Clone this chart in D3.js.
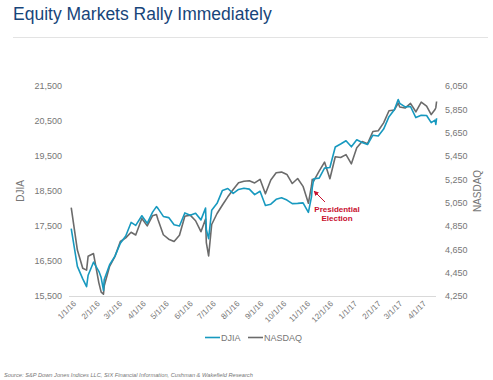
<!DOCTYPE html>
<html><head><meta charset="utf-8">
<script src="https://cdn.jsdelivr.net/npm/d3@7"></script>
<style>
body{margin:0;background:#fff;}
svg{display:block;font-family:"Liberation Sans",Arial,sans-serif;}
</style></head>
<body><svg id="c" width="493" height="380"></svg>
<script>
const djiaDates = ["2015-12-31","2016-01-08","2016-01-15","2016-01-20","2016-01-22","2016-01-29","2016-02-05","2016-02-08","2016-02-11","2016-02-12","2016-02-19","2016-02-26","2016-03-04","2016-03-11","2016-03-18","2016-03-24","2016-04-01","2016-04-08","2016-04-15","2016-04-20","2016-04-22","2016-04-29","2016-05-06","2016-05-13","2016-05-20","2016-05-27","2016-06-03","2016-06-10","2016-06-17","2016-06-23","2016-06-24","2016-06-27","2016-07-01","2016-07-08","2016-07-15","2016-07-22","2016-07-29","2016-08-05","2016-08-12","2016-08-19","2016-08-26","2016-09-02","2016-09-09","2016-09-16","2016-09-23","2016-09-30","2016-10-07","2016-10-14","2016-10-21","2016-10-28","2016-11-04","2016-11-08","2016-11-09","2016-11-11","2016-11-18","2016-11-25","2016-12-02","2016-12-09","2016-12-16","2016-12-23","2016-12-30","2017-01-06","2017-01-13","2017-01-20","2017-01-27","2017-02-03","2017-02-10","2017-02-17","2017-02-24","2017-03-01","2017-03-03","2017-03-10","2017-03-17","2017-03-24","2017-03-31","2017-04-07","2017-04-13","2017-04-18","2017-04-19","2017-04-20"];
const djiaValues = [17425,16346,15988,15766,16093,16466,16205,16027,15660,15974,16392,16640,17007,17213,17602,17516,17793,17577,17897,18053,18004,17774,17740,17535,17501,17873,17807,17865,17675,18011,17400,17140,17949,18147,18517,18571,18432,18544,18577,18553,18395,18492,18085,18124,18262,18308,18240,18138,18146,18161,17888,18332,18589,18848,18868,19153,19171,19757,19843,19934,19763,19964,19886,19827,20094,20071,20269,20624,20822,21115,21006,20903,20915,20597,20663,20656,20453,20523,20404,20578];
const nasdaqValues = [5007,4644,4488,4472,4591,4614,4363,4283,4266,4338,4504,4590,4717,4748,4796,4773,4915,4851,4938,4948,4906,4775,4737,4717,4770,4933,4943,4895,4801,4910,4708,4594,4863,4957,5030,5100,5162,5221,5233,5238,5219,5250,5126,5245,5306,5312,5292,5214,5257,5190,5046,5193,5251,5237,5321,5398,5255,5444,5437,5462,5383,5521,5574,5555,5660,5667,5734,5838,5845,5904,5870,5861,5901,5829,5912,5877,5805,5849,5864,5917];
const djiaTicks = [15500,16500,17500,18500,19500,20500,21500];
const nasdaqTicks = [4250,4450,4650,4850,5050,5250,5450,5650,5850,6050];
const monthTicks = ["2016-01-01","2016-02-01","2016-03-01","2016-04-01","2016-05-01","2016-06-01","2016-07-01","2016-08-01","2016-09-01","2016-10-01","2016-11-01","2016-12-01","2017-01-01","2017-02-01","2017-03-01","2017-04-01"];
const seriesNames = ["DJIA","NASDAQ"];
const seriesColors = ["#1799bf","#6b6b6b"];

const parse = d3.timeParse("%Y-%m-%d");
const dates = djiaDates.map(parse);
const svg = d3.select("#c");

// title
svg.append("text").attr("x",13).attr("y",20).attr("font-size",17.5).attr("fill","#17457a").text("Equity Markets Rally Immediately");
svg.append("line").attr("x1",13).attr("x2",488).attr("y1",37.5).attr("y2",37.5).attr("stroke","#e3e3e3").attr("stroke-width",1);

const x = d3.scaleTime().domain([parse("2016-01-01"), parse("2017-04-01")]).range([72,422]);
const yL = d3.scaleLinear().domain([15500,21500]).range([296,86]);
const yR = d3.scaleLinear().domain([4250,6050]).range([296,86]);

// baseline
svg.append("line").attr("x1",69).attr("x2",436).attr("y1",296.5).attr("y2",296.5).attr("stroke","#d9d9d9");

// left axis
const fmt = d3.format(",");
const la = svg.append("g").attr("transform","translate(62,0)")
  .call(d3.axisLeft(yL).tickValues(djiaTicks).tickFormat(fmt).tickSize(0).tickPadding(0));
la.select(".domain").remove();
la.selectAll("text").attr("font-size",9).attr("fill","#767676").attr("font-family","Liberation Sans, Arial, sans-serif");

const ra = svg.append("g").attr("transform","translate(445,0)")
  .call(d3.axisRight(yR).tickValues(nasdaqTicks).tickFormat(fmt).tickSize(0).tickPadding(0));
ra.select(".domain").remove();
ra.selectAll("text").attr("font-size",9).attr("fill","#767676").attr("font-family","Liberation Sans, Arial, sans-serif");

svg.append("text").attr("transform","translate(24,191) rotate(-90)").attr("text-anchor","middle")
  .attr("font-size",10).attr("fill","#767676").text("DJIA");
svg.append("text").attr("transform","translate(481,191) rotate(-90)").attr("text-anchor","middle")
  .attr("font-size",10).attr("fill","#767676").text("NASDAQ");

// x axis
const xa = svg.append("g").attr("transform","translate(0,300)")
  .call(d3.axisBottom(x).tickValues(monthTicks.map(parse)).tickFormat(d3.timeFormat("%-m/%-d/%y")).tickSize(0).tickPadding(0));
xa.select(".domain").remove();
xa.selectAll("text").attr("font-size",8).attr("fill","#767676").attr("font-family","Liberation Sans, Arial, sans-serif")
  .attr("text-anchor","end").attr("dy","0.35em").attr("y",3).attr("x",0).attr("transform","rotate(-45)");

// lines
const lineL = d3.line().x((d,i)=>x(dates[i])).y(d=>yL(d));
const lineR = d3.line().x((d,i)=>x(dates[i])).y(d=>yR(d));
svg.append("path").attr("d",lineR(nasdaqValues)).attr("fill","none").attr("stroke",seriesColors[1]).attr("stroke-width",1.6).attr("stroke-linejoin","round");
svg.append("path").attr("d",lineL(djiaValues)).attr("fill","none").attr("stroke",seriesColors[0]).attr("stroke-width",1.6).attr("stroke-linejoin","round");

// annotation
const red = "#c8102e";
svg.append("defs").append("marker").attr("id","ah").attr("viewBox","0 0 10 10").attr("refX",9).attr("refY",5)
  .attr("markerWidth",5).attr("markerHeight",5).attr("orient","auto")
  .append("path").attr("d","M0,0L10,5L0,10z").attr("fill",red);
svg.append("line").attr("x1",325).attr("y1",202).attr("x2",314).attr("y2",191)
  .attr("stroke",red).attr("stroke-width",1).attr("marker-end","url(#ah)");
svg.append("text").attr("x",337).attr("y",212).attr("text-anchor","middle").attr("font-size",8).attr("font-weight","bold").attr("fill",red).text("Presidential");
svg.append("text").attr("x",337).attr("y",221).attr("text-anchor","middle").attr("font-size",8).attr("font-weight","bold").attr("fill",red).text("Election");

// legend
const lg = [[205,seriesNames[0],seriesColors[0]],[248,seriesNames[1],seriesColors[1]]];
lg.forEach(([lx,name,col])=>{
  svg.append("line").attr("x1",lx).attr("x2",lx+15).attr("y1",337.5).attr("y2",337.5).attr("stroke",col).attr("stroke-width",1.6);
  svg.append("text").attr("x",lx+16).attr("y",341).attr("font-size",9).attr("fill","#767676").text(name);
});

// source
svg.append("text").attr("x",4).attr("y",377).attr("font-size",5.7).attr("font-style","italic").attr("fill","#767676")
  .text("Source: S&P Down Jones Indices LLC, SIX Financial Information, Cushman & Wakefield Research");
</script></body></html>
